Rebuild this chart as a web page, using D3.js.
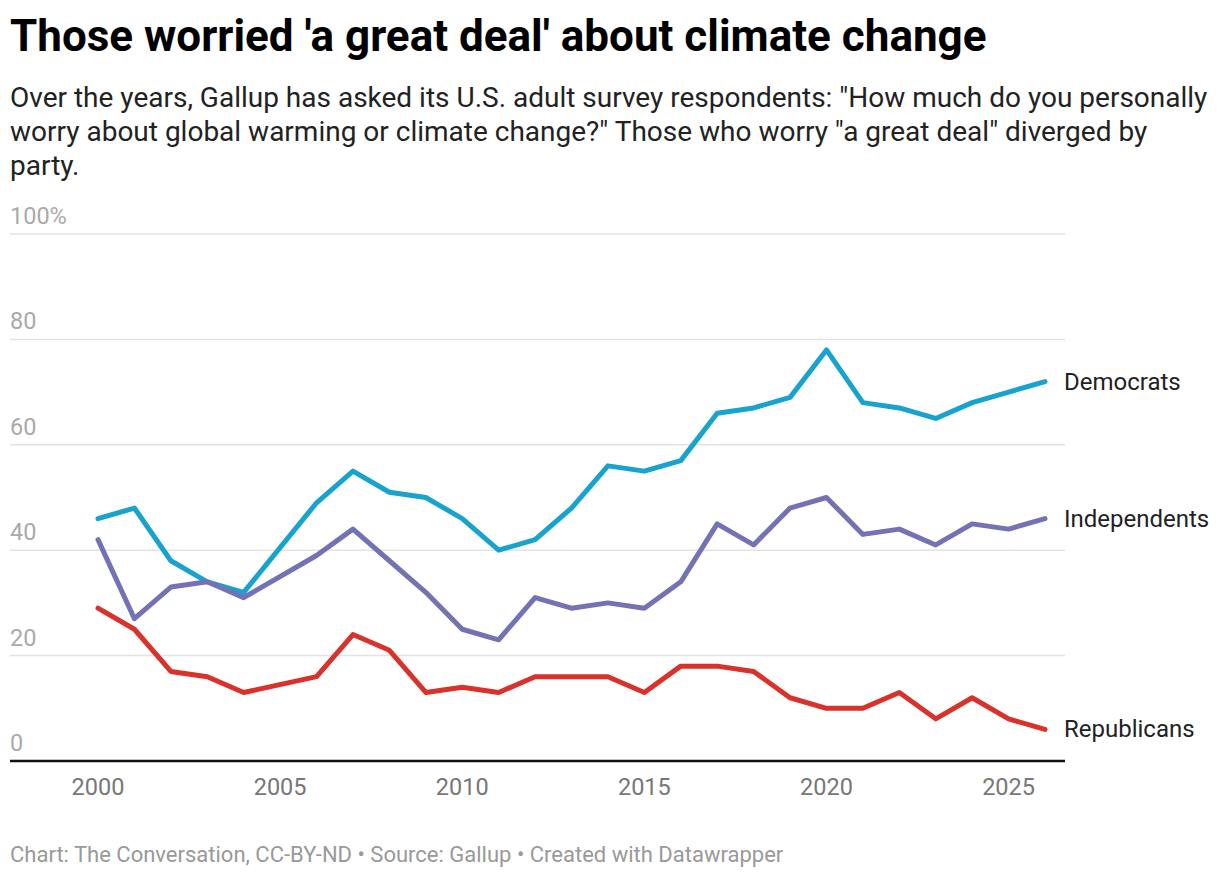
<!DOCTYPE html>
<html>
<head>
<meta charset="utf-8">
<script src="https://cdn.jsdelivr.net/npm/d3@7"></script>
<style>
  body { margin: 0; background: #fff; font-family: Roboto, "Noto Sans", sans-serif; }
  svg text { font-family: Roboto, "Noto Sans", sans-serif; }
</style>
</head>
<body>
<svg id="chart" width="1220" height="878"></svg>
<script>
// survey years (no data for 2005)
var years = [2000, 2001, 2002, 2003, 2004, 2006, 2007, 2008, 2009, 2010, 2011, 2012, 2013,
             2014, 2015, 2016, 2017, 2018, 2019, 2020, 2021, 2022, 2023, 2024, 2025, 2026];
var democrats = [46, 48, 38, 34, 32, 49, 55, 51, 50, 46, 40, 42, 48,
                 56, 55, 57, 66, 67, 69, 78, 68, 67, 65, 68, 70, 72];
var independents = [42, 27, 33, 34, 31, 39, 44, 38, 32, 25, 23, 31, 29,
                    30, 29, 34, 45, 41, 48, 50, 43, 44, 41, 45, 44, 46];
var republicans = [29, 25, 17, 16, 13, 16, 24, 21, 13, 14, 13, 16, 16,
                   16, 13, 18, 18, 17, 12, 10, 10, 13, 8, 12, 8, 6];
var seriesNames = ["Democrats", "Independents", "Republicans"];
var seriesColors = ["#18a3cf", "#7272b4", "#d8322b"];
var yTicks = [0, 20, 40, 60, 80, 100];
var xTicks = [2000, 2005, 2010, 2015, 2020, 2025];

var svg = d3.select("#chart");

svg.append("text")
    .attr("x", 10).attr("y", 51)
    .attr("font-size", 44).attr("font-weight", 700).attr("fill", "#000")
    .text("Those worried 'a great deal' about climate change");

var sub = [
    "Over the years, Gallup has asked its U.S. adult survey respondents: \"How much do you personally",
    "worry about global warming or climate change?\" Those who worry \"a great deal\" diverged by",
    "party."
];
svg.append("g").selectAll("text")
    .data(sub)
    .enter()
    .append("text")
    .attr("x", 10)
    .attr("y", (d, i) => 107 + i * 34)
    .attr("font-size", 28)
    .attr("fill", "#222")
    .text(d => d);

var x = d3.scaleLinear().domain([2000, 2026]).range([98, 1045]);
var y = d3.scaleLinear().domain([0, 100]).range([761, 234]);
var left = 10, right = 1065;

// gridlines + y labels
var grid = svg.append("g");
grid.selectAll("line")
    .data(yTicks.filter(d => d > 0))
    .enter()
    .append("line")
    .attr("x1", left).attr("x2", right)
    .attr("y1", d => y(d)).attr("y2", d => y(d))
    .attr("stroke", "#e3e3e3").attr("stroke-width", 1.5);
grid.selectAll("text")
    .data(yTicks)
    .enter()
    .append("text")
    .attr("x", left)
    .attr("y", d => y(d) - 10)
    .attr("font-size", 23.5)
    .attr("fill", "#aaa")
    .text(d => d == 100 ? "100%" : d);

// x axis baseline
svg.append("line")
    .attr("x1", left).attr("x2", right)
    .attr("y1", y(0)).attr("y2", y(0))
    .attr("stroke", "#111").attr("stroke-width", 2.5);

svg.append("g").selectAll("text")
    .data(xTicks)
    .enter()
    .append("text")
    .attr("x", d => x(d))
    .attr("y", 795)
    .attr("text-anchor", "middle")
    .attr("font-size", 23.5)
    .attr("fill", "#777")
    .text(d => d);

var allSeries = [democrats, independents, republicans];
var line = d3.line()
    .x((d, i) => x(years[i]))
    .y(d => y(d));

allSeries.forEach(function (vals, k) {
    svg.append("path")
        .datum(vals)
        .attr("d", line)
        .attr("fill", "none")
        .attr("stroke", seriesColors[k])
        .attr("stroke-width", 5)
        .attr("stroke-linejoin", "round")
        .attr("stroke-linecap", "round");
    svg.append("text")
        .attr("x", x(2026) + 19)
        .attr("y", y(vals[vals.length - 1]))
        .attr("dominant-baseline", "central")
        .attr("font-size", 24)
        .attr("fill", "#222")
        .text(seriesNames[k]);
});

svg.append("text")
    .attr("x", 10).attr("y", 862)
    .attr("font-size", 22)
    .attr("fill", "#999")
    .text("Chart: The Conversation, CC-BY-ND \u2022 Source: Gallup \u2022 Created with Datawrapper");
</script>
</body>
</html>
